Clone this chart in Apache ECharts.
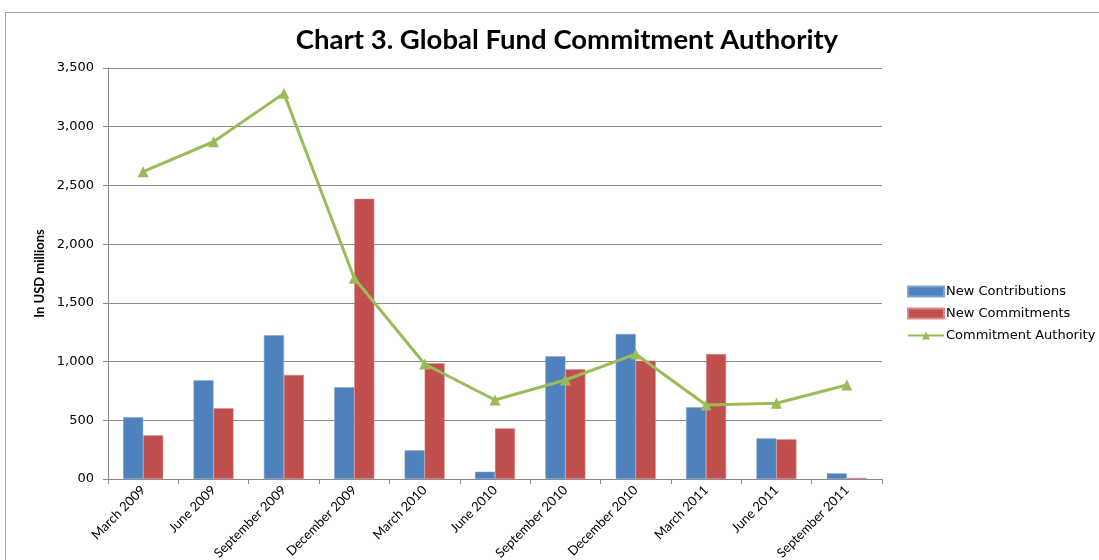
<!DOCTYPE html>
<html>
<head>
<meta charset="utf-8">
<script src="https://cdn.jsdelivr.net/npm/echarts@6/dist/echarts.min.js"></script>
<style>
  html, body { margin: 0; padding: 0; background: #fff; }
  #frame { position: absolute; left: 5px; top: 12px; width: 1200px; height: 600px; border: 1px solid #a0a0a0; }
  #chart { position: absolute; left: 0; top: 0; width: 1099px; height: 560px; }
</style>
</head>
<body>
<div id="frame"></div>
<div id="chart"></div>
<script>
// quarters on the x axis
const categories = [
  "March 2009", "June 2009", "September 2009", "December 2009", "March 2010",
  "June 2010", "September 2010", "December 2010", "March 2011", "June 2011", "September 2011"
];
// USD millions
const newContributions = [525, 840, 1224, 781, 244, 62, 1045, 1235, 610, 346, 48];
const newCommitments = [372, 602, 886, 2387, 985, 431, 934, 1008, 1064, 338, 10];
const commitmentAuthority = [2617, 2872, 3284, 1709, 979, 673, 843, 1064, 630, 645, 800];

const chart = echarts.init(document.getElementById("chart"));

const axisFont = "DejaVu Sans";
const narrowFont = "Lato";

chart.setOption({
  animation: false,
  title: {
    text: "Chart 3. Global Fund Commitment Authority",
    left: 562,
    textAlign: "center",
    top: 21,
    textStyle: { fontFamily: narrowFont, fontWeight: "bold", fontSize: 27.5, color: "#000" },
  },
  grid: { left: 108, right: 217, top: 68, bottom: 81, outerBoundsMode: "none", containLabel: false },
  legend: {
    orient: "vertical",
    left: 902,
    top: 280,
    itemWidth: 36,
    itemHeight: 10,
    itemGap: 9,
    textStyle: { fontFamily: axisFont, fontSize: 13, color: "#000", padding: [0, 0, 0, -3] },
    data: [
      { name: "New Contributions", icon: "rect" },
      { name: "New Commitments", icon: "rect" },
      { name: "Commitment Authority" },
    ],
  },
  xAxis: {
    type: "category",
    data: categories,
    axisLine: { lineStyle: { color: "#888", width: 1 } },
    axisTick: { show: true, length: 5, lineStyle: { color: "#888" } },
    axisLabel: {
      interval: 0,
      rotate: 45,
      margin: 9,
      fontFamily: narrowFont,
      fontSize: 13,
      color: "#000",
    },
  },
  yAxis: {
    type: "value",
    min: 0,
    max: 3500,
    interval: 500,
    name: "In USD millions",
    nameLocation: "middle",
    nameGap: 60,
    nameTextStyle: { fontFamily: narrowFont, fontWeight: "bold", fontSize: 13, color: "#000" },
    axisLine: { show: true, lineStyle: { color: "#888" } },
    axisTick: { show: true, length: 5, lineStyle: { color: "#888" } },
    axisLabel: {
      fontFamily: axisFont,
      fontSize: 13,
      color: "#000",
      margin: 14,
      formatter: (v) => (v === 0 ? "00" : v.toLocaleString("en-US")),
    },
    splitLine: { lineStyle: { color: "#8c8c8c", width: 1 } },
  },
  series: [
    {
      name: "New Contributions",
      type: "bar",
      barWidth: 20,
      barGap: "0%",
      itemStyle: { color: "#4F81BD", borderColor: "#7fa3d0", borderWidth: 0.5 },
      data: newContributions,
    },
    {
      name: "New Commitments",
      type: "bar",
      barWidth: 20,
      barGap: "0%",
      itemStyle: { color: "#C0504D", borderColor: "#d88a88", borderWidth: 0.5 },
      data: newCommitments,
    },
    {
      name: "Commitment Authority",
      type: "line",
      symbol: "triangle",
      symbolSize: 11,
      lineStyle: { color: "#9BBB59", width: 3 },
      itemStyle: { color: "#9BBB59" },
      data: commitmentAuthority,
    },
  ],
});
</script>
</body>
</html>
